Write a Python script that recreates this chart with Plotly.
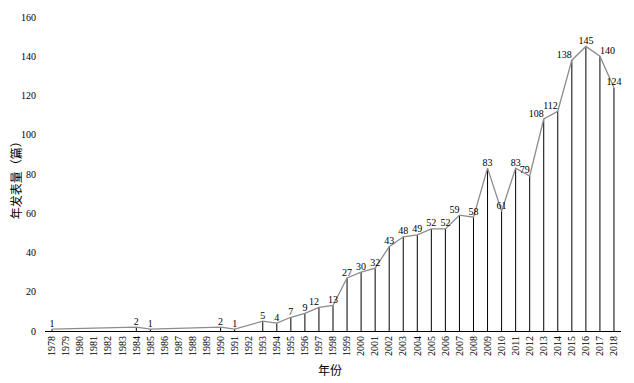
import plotly.graph_objects as go

years = [1978, 1984, 1985, 1990, 1991, 1993, 1994, 1995, 1996, 1997, 1998, 1999, 2000,
         2001, 2002, 2003, 2004, 2005, 2006, 2007, 2008, 2009, 2010, 2011, 2012, 2013,
         2014, 2015, 2016, 2017, 2018]
counts = [1, 2, 1, 2, 1, 5, 4, 7, 9, 12, 13, 27, 30, 32, 43, 48, 49, 52, 52, 59, 58, 83,
          61, 83, 79, 108, 112, 138, 145, 140, 124]
tick_years = list(range(1978, 2019))
y_ticks = [0, 20, 40, 60, 80, 100, 120, 140, 160]
x_title = "年份"
y_title = "年发表量（篇）"

serif = "Liberation Serif, Times New Roman, serif"
cjk = "Noto Sans CJK SC, sans-serif"

label_pos = {1997: "top left", 1998: "top center", 2007: "top left", 2008: "top center",
             2012: "top left", 2013: "top left",
             2014: "top left", 2015: "top left", 2017: "top right", 2018: "top center"}
positions = [label_pos.get(y, "top center") for y in years]

# drop lines from each point to the axis
dx, dy = [], []
for yr, c in zip(years, counts):
    dx += [yr, yr, None]
    dy += [0, c, None]

fig = go.Figure()
fig.add_trace(go.Scatter(x=dx, y=dy, mode="lines",
                         line=dict(color="black", width=1), hoverinfo="skip",
                         showlegend=False))
fig.add_trace(go.Scatter(x=years, y=counts, mode="lines+text",
                         text=[str(c) for c in counts], textposition=positions,
                         textfont=dict(family=serif, size=10, color="black"),
                         line=dict(color="#8c8c8c", width=1.3), showlegend=False,
                         cliponaxis=False))

fig.update_layout(
    width=626, height=375,
    margin=dict(l=37, r=13, t=9, b=52),
    paper_bgcolor="white", plot_bgcolor="white",
    font=dict(family=serif, size=10, color="black"),
    xaxis=dict(range=[1977.5, 2018.5], tickmode="array", tickvals=tick_years,
               ticktext=[str(y) for y in tick_years], tickangle=-90,
               tickfont=dict(family=serif, size=10), showgrid=False, zeroline=False,
               showline=True, linecolor="black", linewidth=1, ticks="",
               automargin=False),
    yaxis=dict(range=[0, 160], tickmode="array", tickvals=y_ticks,
               tickfont=dict(family=serif, size=10), showgrid=False, zeroline=False,
               showline=False, ticks="", ticklabelstandoff=8, automargin=False),
    annotations=[
        dict(text=x_title, xref="paper", yref="paper", x=0.495, y=-0.124,
             xanchor="center", yanchor="middle", showarrow=False,
             font=dict(family=cjk, size=12)),
        dict(text=y_title, xref="paper", yref="paper", x=-0.052, y=0.49,
             xanchor="center", yanchor="middle", showarrow=False, textangle=-90,
             font=dict(family=cjk, size=12)),
    ],
)

fig.write_html("out.html")
